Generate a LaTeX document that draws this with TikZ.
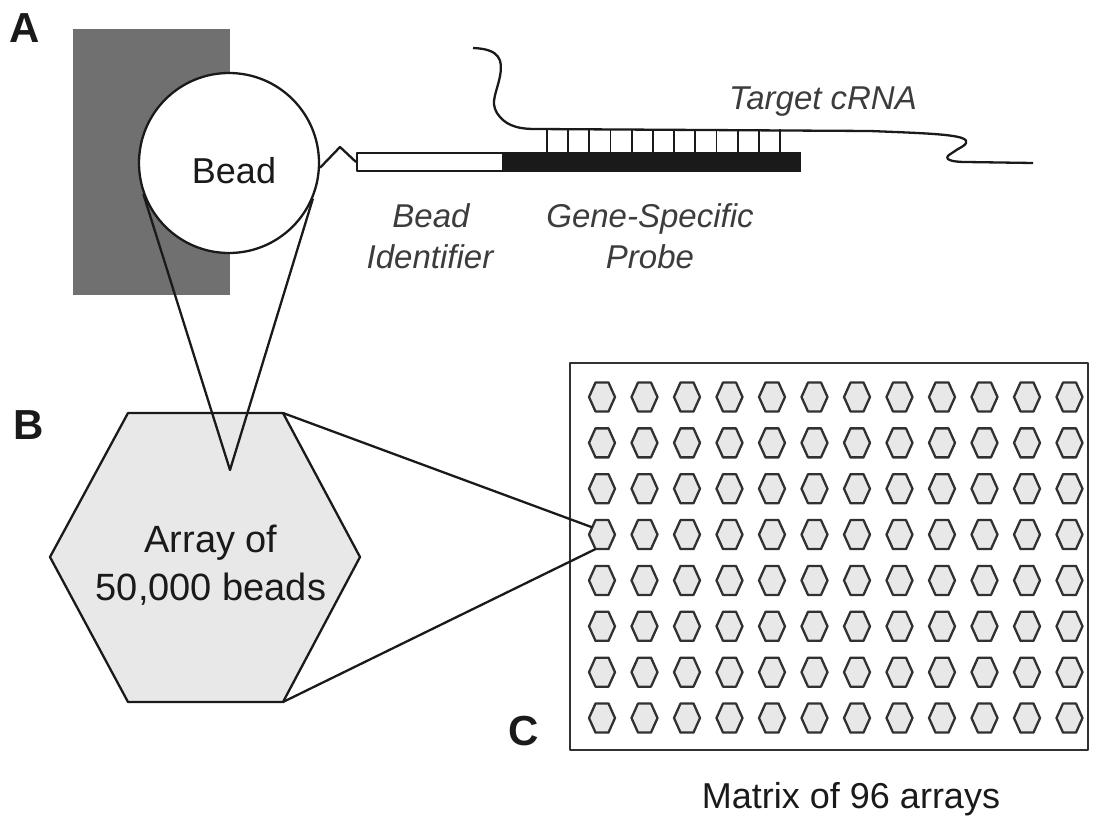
\documentclass[tikz,border=0pt]{standalone}
\usepackage{fontspec}
\setmainfont{Liberation Sans}
\usetikzlibrary{calc}
\definecolor{slab}{HTML}{707070}
\definecolor{hexfill}{HTML}{E8E8E8}
\definecolor{ink}{HTML}{1A1A1A}
\begin{document}
\begin{tikzpicture}[x=1pt,y=-1pt,line join=round,
  ln/.style={line width=2.3pt,draw=ink},
  thin/.style={line width=1.8pt,draw=ink},
  panel/.style={font=\fontsize{42}{48}\selectfont\bfseries,text=ink,inner sep=0},
  itl/.style={font=\fontsize{33}{40}\selectfont\itshape,text=ink!85,inner sep=0,anchor=base},
  plain/.style={font=\fontsize{36}{44}\selectfont,text=ink,inner sep=0,anchor=base},
  smallhex/.style={line width=2.3pt,draw=ink!90,fill=hexfill}]
\useasboundingbox (0,0) rectangle (1098,816);

% panel labels
\node[panel] (labA) at (25,28) {A};
\node[panel] (labB) at (29,425) {B};
\node[panel] (labC) at (524,731) {C};

% slab and bead
\fill[slab] (73,29) rectangle (230,295);
\node[circle,minimum size=180pt,inner sep=0,fill=white,ln] (bead) at (229,163) {};
\node[plain] (beadtxt) at (234,183) {Bead};

% probe
\coordinate (zz1) at (340,147);
\coordinate (wl) at (357,153);
\coordinate (wm) at (503,171);
\draw[ln] (bead.-3) -- (zz1) -- (356,162);
\draw[ln,fill=white] (wl) rectangle (wm);
\fill[ink] (503,152) rectangle (801,172);

% target cRNA
\draw[ln] (473,48) .. controls (500,49) and (503,60) .. (500,76)
  .. controls (497,92) and (490,102) .. (497,113)
  .. controls (504,124) and (515,129) .. (535,129)
  -- (870,131) .. controls (920,133) and (950,134) .. (962,138)
  .. controls (970,141) and (966,145) .. (958,149)
  -- (949,155) .. controls (944,159) and (950,162) .. (966,162)
  -- (1033,163);
\foreach \i in {0,...,11}
  \draw[thin] ({547+21.18*\i},129) -- ({547+21.18*\i},153);

\node[itl] (tgt) at (823,110) {Target cRNA};
\node[itl] (bid1) at (431,227) {Bead};
\node[itl] (bid2) at (430,268) {Identifier};
\node[itl] (gsp1) at (650,227) {Gene-Specific};
\node[itl] (gsp2) at (650,268) {Probe};

% big hexagon
\coordinate (hw) at (50,557);
\coordinate (hnw) at (128,413);
\coordinate (hne) at (283,413);
\coordinate (he) at (360,557);
\coordinate (hse) at (283,702);
\coordinate (hsw) at (128,702);
\draw[ln,fill=hexfill] (hw) -- (hnw) -- (hne) -- (he) -- (hse) -- (hsw) -- cycle;
\node[plain,font=\fontsize{38}{48}\selectfont] (arr1) at (211,552) {Array of};
\node[plain,font=\fontsize{38}{48}\selectfont] (arr2) at (211,600) {50,000 beads};

% zoom lines bead -> array
\coordinate (vtip) at (230,470);
\draw[ln] (bead.200) -- (vtip) -- (bead.337);

% matrix
\draw[line width=2.6pt,draw=ink!90,fill=white] (570,363) rectangle (1088,750);
\foreach \r in {1,...,8}
  \foreach \c in {1,...,12} {
    \coordinate (h-\r-\c) at ({602+42.5*(\c-1)},{397+45.86*(\r-1)});
    \draw[smallhex] ($(h-\r-\c)+(-13,0)$) coordinate (h-\r-\c-w)
      -- ++(6.5,-14.5) coordinate (h-\r-\c-nw) -- ++(13,0) -- ++(6.5,14.5)
      -- ++(-6.5,14.5) -- ++(-13,0) coordinate (h-\r-\c-sw) -- cycle;
  }
\draw[ln] (hne) -- ($(h-4-1-w)!0.5!(h-4-1-nw)$);
\draw[ln] (hse) -- (h-4-1-sw);

\node[plain] (mtx) at (851,808) {Matrix of 96 arrays};
\end{tikzpicture}
\end{document}
